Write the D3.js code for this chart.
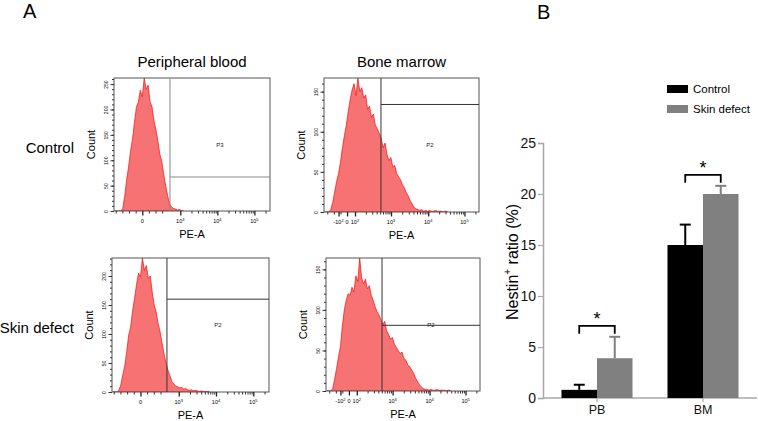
<!DOCTYPE html>
<html><head><meta charset="utf-8">
<script src="https://cdn.jsdelivr.net/npm/d3@7/dist/d3.min.js"></script>
<style>body{margin:0;background:#fff}svg{display:block;font-family:"Liberation Sans",Arial,sans-serif}</style>
</head><body><svg id="c" width="758" height="421"></svg>
<script>
// ---------- Panel A data (flow histograms, counts per display bin, 80 bins) ----------
const rowLabels = ["Control", "Skin defect"];
const colLabels = ["Peripheral blood", "Bone marrow"];
const histCtrlPB = [0,0,0,0,5,30,62,88,118,142,175,205,215,238,225,262,240,248,215,205,178,160,138,112,98,72,50,30,14,8,5,4,2,3,1,1];
const histCtrlBM = [0,0,0,3,12,25,38,48,62,80,95,108,125,140,152,160,145,167,150,155,142,146,128,132,118,122,108,104,98,92,80,86,72,64,68,56,58,48,44,40,34,30,24,20,14,10,6,4,3,2,3,1,2,1,2,1,1,2,1,1,1,0,1,1];
const histSkinPB = [0,0,0,3,12,30,45,70,98,112,140,162,185,205,198,231,210,218,196,200,172,150,138,118,104,85,66,50,38,28,18,14,10,9,7,8,5,6,4,3,4,2,3,2,1,2,1,1,1,1];
const histSkinBM = [0,0,0,3,15,28,42,55,80,100,112,120,118,128,122,142,135,164,140,132,138,126,130,118,112,104,98,94,88,82,86,74,70,64,66,58,54,50,46,48,40,38,32,30,26,22,16,12,8,5,3,2,2,1,2,1,1,2,1,1,1,1,0,1,1];
const yMaxes = [262, 167, 231, 164];
const gateBins = [28.7, 29.4, 28.0, 29.1];
const gateCounts = [67, 134, 160, 81];
const gateNames = ["P3", "P2", "P2", "P2"];
// x tick labels (bin position, base, exponent)
const pbTicks = [[14.5,"0",""],[34,"10","3"],[53,"10","4"],[72,"10","5"]];
const bmTicks = [[7.5,"-10","2"],[11.9,"0",""],[16,"10","2"],[34.6,"10","3"],[53.8,"10","4"],[72.5,"10","5"]];

// ---------- Panel B data ----------
const categories = ["PB", "BM"];
const seriesNames = ["Control", "Skin defect"];
const controlMean = [0.8, 15.0];
const controlSD = [0.5, 2.0];
const skinMean = [3.9, 20.0];
const skinSD = [2.1, 0.8];
const barTicks = [0, 5, 10, 15, 20, 25];
const seriesColors = ["#000000", "#808080"];

const svg = d3.select("#c");
const FONT = '"Liberation Sans",Arial,sans-serif';

// Panel letters
svg.append("text").attr("x", 23).attr("y", 18).attr("font-size", 20).text("A");
svg.append("text").attr("x", 537).attr("y", 19).attr("font-size", 20).text("B");

// ---------- histograms ----------
const layout = [
  {box:[114,78,270,211], data:histCtrlPB, ticks:pbTicks},
  {box:[324,78,479,212], data:histCtrlBM, ticks:bmTicks},
  {box:[112,258,269,392], data:histSkinPB, ticks:pbTicks},
  {box:[326,258,480,391], data:histSkinBM, ticks:bmTicks}
];
colLabels.forEach((t,i)=>{
  const b = layout[i].box;
  svg.append("text").attr("x",(b[0]+b[2])/2).attr("y",67).attr("text-anchor","middle").attr("font-size",15).text(t);
});
rowLabels.forEach((t,i)=>{
  const b = layout[i*2].box;
  svg.append("text").attr("x",74).attr("y",(b[1]+b[3])/2+8).attr("text-anchor","end").attr("font-size",15).text(t);
});

layout.forEach((p,pi)=>{
  const [L,T,R,B] = p.box;
  const x = d3.scaleLinear().domain([0,80]).range([L,R]);
  const y = d3.scaleLinear().domain([0,yMaxes[pi]]).range([B,T]);
  const g = svg.append("g");
  const clipId = "clip"+pi;
  svg.append("clipPath").attr("id",clipId).append("rect").attr("x",L).attr("y",T).attr("width",R-L).attr("height",B-T);
  const area = d3.area().x((d,i)=>x(i+0.5)).y0(y(0)).y1(d=>y(d));
  g.append("path").datum(p.data).attr("clip-path",`url(#${clipId})`)
    .attr("d",area).attr("fill","#f77272").attr("stroke","#f01010").attr("stroke-width",0.7);
  // frame
  g.append("rect").attr("x",L).attr("y",T).attr("width",R-L).attr("height",B-T)
    .attr("fill","none").attr("stroke","#555").attr("stroke-width",1);
  // gate
  const gx = x(gateBins[pi]), gy = y(gateCounts[pi]);
  const gateColor = pi===0 ? "#888" : "#333";
  g.append("line").attr("x1",gx).attr("x2",gx).attr("y1",T).attr("y2",B).attr("stroke",gateColor).attr("stroke-width",1);
  g.append("line").attr("x1",gx).attr("x2",R).attr("y1",gy).attr("y2",gy).attr("stroke",gateColor).attr("stroke-width",1);
  g.append("text").attr("x",(gx+R)/2).attr("y",(T+B)/2+2).attr("text-anchor","middle").attr("font-size",6).attr("fill","#222").text(gateNames[pi]);
  // y axis
  const yMinor = d3.range(0, yMaxes[pi], 10);
  const yAxMinor = d3.axisLeft(y).tickValues(yMinor).tickSize(2).tickFormat("");
  g.append("g").attr("transform",`translate(${L},0)`).call(yAxMinor).call(a=>a.select(".domain").remove())
    .selectAll("line").attr("stroke","#333");
  const yMajor = d3.range(0, yMaxes[pi], 50);
  const yAx = d3.axisLeft(y).tickValues(yMajor).tickSize(3.5).tickFormat(d3.format("d"));
  const ya = g.append("g").attr("transform",`translate(${L},0)`).call(yAx);
  ya.select(".domain").remove();
  ya.selectAll("line").attr("stroke","#333");
  ya.selectAll("text").attr("font-size",5).attr("font-family",FONT).attr("text-anchor","middle")
    .attr("x",0).attr("dy",0).attr("transform","translate(-6,0) rotate(-90)");
  // x axis ticks
  const tk = p.ticks;
  const minors = [];
  const decs = tk.filter(t=>t[1]==="10");
  for (let i=0;i<decs.length;i++){
    const a = decs[i][0];
    const step = i<decs.length-1 ? decs[i+1][0]-a : (decs[i][0]-decs[i-1][0]);
    for (let k=2;k<=9;k++){ const v = a+Math.log10(k)*step; if (v<79.5) minors.push(v); }
  }
  const zero = tk.find(t=>t[1]==="0")[0];
  const firstDec = decs[0][0];
  for (let v=zero-3.4; v>0.5; v-=3.4) minors.push(v);
  if (firstDec - zero > 10) { for (let v=zero+3.4; v<firstDec-6; v+=3.4) minors.push(v); }
  g.append("g").attr("transform",`translate(0,${B})`)
    .call(d3.axisBottom(x).tickValues(minors).tickSize(2.5).tickFormat(""))
    .call(a=>a.select(".domain").remove()).selectAll("line").attr("stroke","#333");
  const xa = g.append("g").attr("transform",`translate(0,${B})`)
    .call(d3.axisBottom(x).tickValues(tk.map(t=>t[0])).tickSize(4.5).tickFormat(""));
  xa.select(".domain").remove();
  xa.selectAll("line").attr("stroke","#222").attr("stroke-width",1.3);
  tk.forEach(t=>{
    const tx = g.append("text").attr("x",x(t[0])).attr("y",B+12).attr("text-anchor","middle").attr("font-size",5.5);
    tx.append("tspan").text(t[1]);
    if (t[2]) tx.append("tspan").attr("dy",-2.5).attr("font-size",4).text(t[2]);
  });
  // axis titles
  g.append("text").attr("transform",`translate(${L-19},${(T+B)/2}) rotate(-90)`)
    .attr("text-anchor","middle").attr("font-size",11).text("Count");
  g.append("text").attr("x",(L+R)/2).attr("y",B+27).attr("text-anchor","middle").attr("font-size",11).text("PE-A");
});

// ---------- Panel B: bar chart ----------
const yB = d3.scaleLinear().domain([0,25]).range([398,143]);
const xB = d3.scaleBand().domain(categories).range([544,756]).paddingInner(0.33).paddingOuter(0.165);
const xS = d3.scaleBand().domain(seriesNames).range([0,xB.bandwidth()]);
const means = [controlMean, skinMean];
const sds = [controlSD, skinSD];
const gB = svg.append("g");

// y axis
const yAxB = gB.append("g").attr("transform","translate(543,0)")
  .call(d3.axisLeft(yB).tickValues(barTicks).tickSize(5).tickPadding(2));
yAxB.select(".domain").attr("stroke","#a8a8a8").attr("stroke-width",1.5);
yAxB.selectAll("line").attr("stroke","#a8a8a8").attr("stroke-width",1.2);
yAxB.selectAll("text").attr("font-size",14).attr("font-family",FONT).attr("fill","#111");
// x axis
const xAxB = gB.append("g").attr("transform","translate(0,398)")
  .call(d3.axisBottom(xB).tickSize(4).tickSizeOuter(0).tickPadding(3));
xAxB.select(".domain").attr("d","M543,0H757").attr("stroke","#a8a8a8").attr("stroke-width",1.5);
xAxB.selectAll("line").attr("stroke","#a8a8a8").attr("stroke-width",1.2);
xAxB.selectAll("text").attr("font-size",12.5).attr("font-family",FONT).attr("fill","#111");

// bars & error bars
seriesNames.forEach((s,si)=>{
  categories.forEach((c,ci)=>{
    const bx = xB(c)+xS(s), bw = xS.bandwidth();
    const m = means[si][ci], e = sds[si][ci];
    gB.append("line").attr("x1",bx+bw/2).attr("x2",bx+bw/2).attr("y1",yB(m)).attr("y2",yB(m+e))
      .attr("stroke",seriesColors[si]).attr("stroke-width",2);
    gB.append("line").attr("x1",bx+bw/2-5.5).attr("x2",bx+bw/2+5.5).attr("y1",yB(m+e)).attr("y2",yB(m+e))
      .attr("stroke",seriesColors[si]).attr("stroke-width",2);
    gB.append("rect").attr("x",bx).attr("y",yB(m)).attr("width",bw).attr("height",yB(0)-yB(m))
      .attr("fill",seriesColors[si]);
  });
});
// significance brackets
categories.forEach((c,ci)=>{
  const x1 = xB(c)+xS("Control")+xS.bandwidth()/2;
  const x2 = xB(c)+xS("Skin defect")+xS.bandwidth()/2;
  const top = Math.max(controlMean[ci]+controlSD[ci], skinMean[ci]+skinSD[ci]);
  const by = yB(top)-11;
  gB.append("path").attr("d",`M${x1},${by+8}V${by}H${x2}V${by+8}`).attr("fill","none")
    .attr("stroke","#000").attr("stroke-width",1.8);
  gB.append("text").attr("x",(x1+x2)/2).attr("y",by-1).attr("text-anchor","middle")
    .attr("font-size",18).text("*");
});
// y title
const yt = gB.append("text").attr("transform","translate(518,262) rotate(-90)").attr("text-anchor","middle").attr("font-size",16);
yt.append("tspan").text("Nestin");
yt.append("tspan").attr("dy",-7).attr("font-size",10).text("+");
yt.append("tspan").attr("dy",7).text(" ratio (%)");
// legend
seriesNames.forEach((s,si)=>{
  const ly = 85+si*20;
  svg.append("rect").attr("x",667).attr("y",ly).attr("width",21).attr("height",8).attr("fill",seriesColors[si]);
  svg.append("text").attr("x",693).attr("y",ly+8).attr("font-size",11.5).text(s);
});
</script></body></html>
